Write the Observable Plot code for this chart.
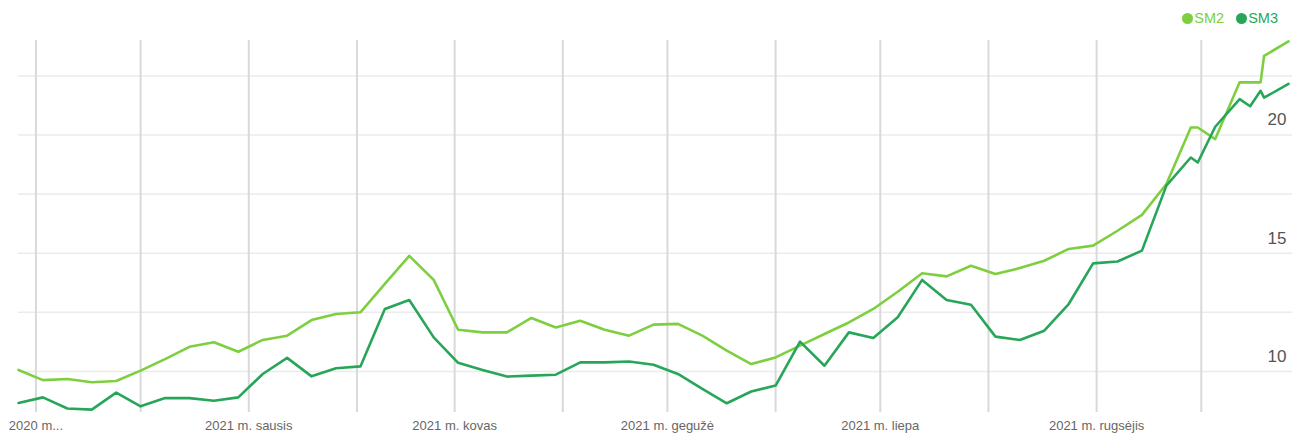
<!DOCTYPE html>
<html>
<head>
<meta charset="utf-8">
<script src="https://cdn.jsdelivr.net/npm/d3@7"></script>
<script src="https://cdn.jsdelivr.net/npm/@observablehq/plot@0.6"></script>
<style>
  html, body { margin: 0; padding: 0; background: #fff; }
  body { width: 1299px; height: 439px; overflow: hidden; font-family: "Liberation Sans", Arial, sans-serif; }
  #legend { height: 30px; display: flex; justify-content: flex-end; align-items: center; padding-right: 21px; padding-top: 6px; box-sizing: border-box; font-size: 14.5px; }
  #legend .item { display: flex; align-items: center; margin-left: 12px; }
  #legend .sw { width: 11px; height: 11px; border-radius: 50%; margin-right: 1px; }
</style>
</head>
<body>
<div id="legend"></div>
<div id="chart"></div>
<script>
const dates = ["2020-10-27","2020-11-03","2020-11-10","2020-11-17","2020-11-24","2020-12-01","2020-12-08","2020-12-15","2020-12-22","2020-12-29",
  "2021-01-05","2021-01-12","2021-01-19","2021-01-26","2021-02-02","2021-02-09","2021-02-16","2021-02-23","2021-03-02","2021-03-09",
  "2021-03-16","2021-03-23","2021-03-30","2021-04-06","2021-04-13","2021-04-20","2021-04-27","2021-05-04","2021-05-11","2021-05-18",
  "2021-05-25","2021-06-01","2021-06-08","2021-06-15","2021-06-22","2021-06-29","2021-07-06","2021-07-13","2021-07-20","2021-07-27",
  "2021-08-03","2021-08-10","2021-08-17","2021-08-24","2021-08-31","2021-09-07","2021-09-14","2021-09-21","2021-09-28","2021-09-30",
  "2021-10-05","2021-10-12","2021-10-15","2021-10-18","2021-10-19","2021-10-26"];
const sm2 = [10.06,9.63,9.68,9.54,9.59,10.03,10.52,11.04,11.23,10.83,
  11.33,11.51,12.17,12.43,12.50,13.70,14.89,13.87,11.76,11.65,
  11.65,12.26,11.86,12.14,11.76,11.51,11.98,12.01,11.51,10.88,
  10.31,10.59,11.09,11.58,12.07,12.64,13.37,14.15,14.02,14.47,
  14.12,14.37,14.68,15.18,15.32,15.95,16.62,17.93,20.32,20.32,
  19.83,22.23,22.23,22.23,23.35,23.96];
const sm3 = [8.66,8.90,8.43,8.38,9.10,8.52,8.87,8.87,8.76,8.90,
  9.89,10.57,9.79,10.13,10.21,12.64,13.02,11.44,10.36,10.06,
  9.78,9.82,9.86,10.38,10.38,10.42,10.28,9.89,9.26,8.65,
  9.15,9.40,11.26,10.24,11.65,11.41,12.29,13.87,13.02,12.82,
  11.47,11.33,11.72,12.85,14.57,14.65,15.11,17.86,19.05,18.84,
  20.35,21.52,21.22,21.87,21.58,22.16];
const seriesNames = ["SM2", "SM3"];
const seriesColors = ["#7dcf40", "#27a65a"];
const monthGrid = ["2020-11-01","2020-12-01","2021-01-01","2021-02-01","2021-03-01","2021-04-01","2021-05-01","2021-06-01","2021-07-01","2021-08-01","2021-09-01","2021-10-01"];
const xTickDates = ["2020-11-01","2021-01-01","2021-03-01","2021-05-01","2021-07-01","2021-09-01"];
const xTickLabels = ["2020 m...","2021 m. sausis","2021 m. kovas","2021 m. gegužė","2021 m. liepa","2021 m. rugsėjis"];
const yGrid = [10, 12.5, 15, 17.5, 20, 22.5];
const yTicks = [10, 15, 20];

const parse = d3.utcParse("%Y-%m-%d");
const rows = [];
dates.forEach((d, i) => {
  rows.push({date: parse(d), value: sm2[i], series: seriesNames[0]});
});
dates.forEach((d, i) => {
  rows.push({date: parse(d), value: sm3[i], series: seriesNames[1]});
});
const labelMap = new Map(xTickDates.map((d, i) => [+parse(d), xTickLabels[i]]));

const legend = document.getElementById("legend");
seriesNames.forEach((s, i) => {
  const it = document.createElement("div");
  it.className = "item";
  it.innerHTML = `<span class="sw" style="background:${seriesColors[i]}"></span><span style="color:${seriesColors[i]}">${s}</span>`;
  legend.appendChild(it);
});

const chart = Plot.plot({
  width: 1299,
  height: 409,
  marginTop: 10,
  marginBottom: 27,
  marginLeft: 18,
  marginRight: 11,
  style: {fontFamily: "'Liberation Sans', Arial, sans-serif", background: "#fff"},
  x: {type: "utc", domain: [parse("2020-10-27"), parse("2021-10-26")]},
  y: {domain: [8.26, 24]},
  color: {domain: seriesNames, range: seriesColors},
  marks: [
    Plot.gridY(yGrid, {stroke: "#ebebeb", strokeOpacity: 1, strokeWidth: 1.5, insetRight: -4}),
    Plot.gridX(monthGrid.map(parse), {stroke: "#d9d9d9", strokeOpacity: 1, strokeWidth: 2}),
    Plot.axisX(xTickDates.map(parse), {tickSize: 0, tickPadding: 8, fontSize: 13, fill: "#666", label: null,
      tickFormat: d => labelMap.get(+d)}),
    Plot.axisY(yTicks, {anchor: "right", tickSize: 0, tickPadding: -2, textAnchor: "end", dy: -15,
      fontSize: 17, fill: "#555", label: null}),
    Plot.line(rows, {x: "date", y: "value", z: "series", stroke: "series", strokeWidth: 2.6, curve: "linear"})
  ]
});
document.getElementById("chart").appendChild(chart);
</script>
</body>
</html>
